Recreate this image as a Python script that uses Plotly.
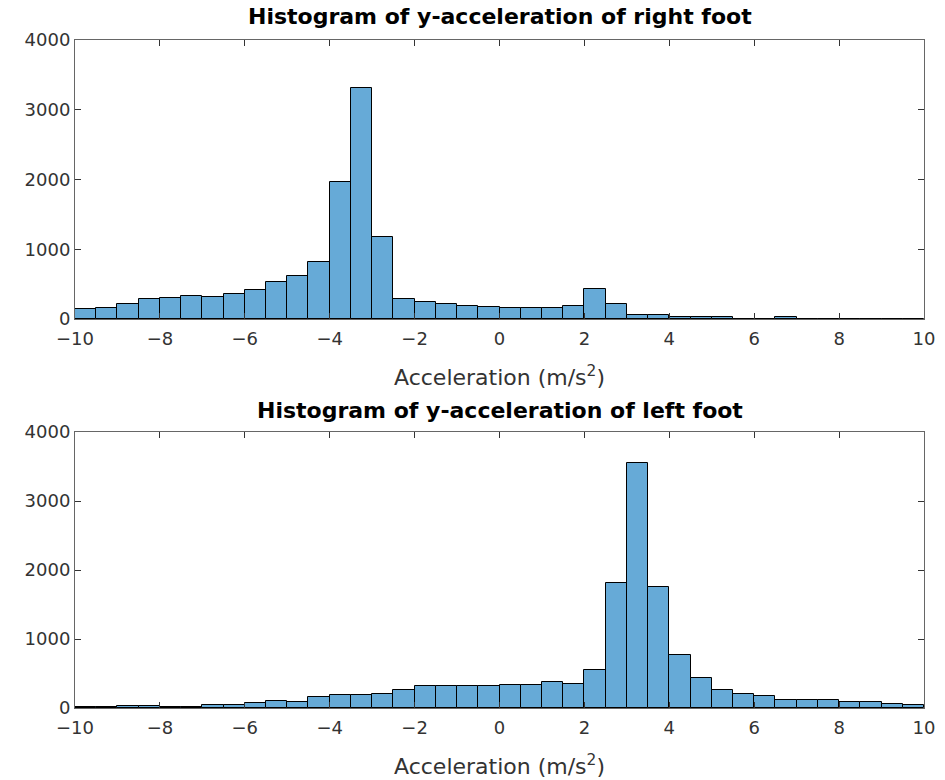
import plotly.graph_objects as go

# Bin left edges (width 0.5) from -10 to 10
bin_left = [-10.0, -9.5, -9.0, -8.5, -8.0, -7.5, -7.0, -6.5, -6.0, -5.5,
            -5.0, -4.5, -4.0, -3.5, -3.0, -2.5, -2.0, -1.5, -1.0, -0.5,
            0.0, 0.5, 1.0, 1.5, 2.0, 2.5, 3.0, 3.5, 4.0, 4.5,
            5.0, 5.5, 6.0, 6.5, 7.0, 7.5, 8.0, 8.5, 9.0, 9.5]
bin_width = 0.5

right_counts = [139, 163, 221, 283, 307, 336, 312, 360, 422, 532,
                619, 820, 1971, 3319, 1175, 283, 249, 216, 187, 177,
                163, 163, 163, 192, 427, 221, 53, 53, 29, 24,
                24, 5, 5, 29, 5, 5, 3, 3, 2, 2]

left_counts = [14, 14, 24, 24, 14, 10, 43, 38, 67, 96,
               86, 158, 182, 182, 205, 263, 320, 320, 320, 320,
               330, 330, 378, 349, 550, 1806, 3546, 1754, 769, 435,
               263, 205, 177, 120, 120, 120, 86, 86, 62, 43]

x_ticks = [-10, -8, -6, -4, -2, 0, 2, 4, 6, 8, 10]
y_ticks = [0, 1000, 2000, 3000, 4000]

titles = ["Histogram of y-acceleration of right foot",
          "Histogram of y-acceleration of left foot"]
xlabel = "Acceleration (m/s<sup>2</sup>)"

centers = [b + bin_width / 2 for b in bin_left]
bar_color = "rgb(102,170,215)"
font_family = "DejaVu Sans"
txt_color = "#333333"

fig = go.Figure()
fig.add_trace(go.Bar(x=centers, y=right_counts, width=bin_width,
                     marker=dict(color=bar_color, line=dict(color="black", width=1)),
                     xaxis="x", yaxis="y", showlegend=False))
fig.add_trace(go.Bar(x=centers, y=left_counts, width=bin_width,
                     marker=dict(color=bar_color, line=dict(color="black", width=1)),
                     xaxis="x2", yaxis="y2", showlegend=False))

W, H = 945, 780
ml, mr, mt, mb = 75, 21, 40, 72
ph = H - mt - mb

def py(pix):
    return (H - mb - pix) / ph

axis_common = dict(showgrid=False, zeroline=False, showline=True, linecolor="#666666",
                   linewidth=1, mirror="ticks", ticks="inside", ticklen=6, automargin=False,
                   tickcolor="#333333", tickfont=dict(family=font_family, size=18, color=txt_color))

xtitle = dict(text=xlabel, font=dict(family=font_family, size=22, color=txt_color), standoff=22)

fig.update_layout(
    width=W, height=H,
    margin=dict(l=ml, r=mr, t=mt, b=mb),
    paper_bgcolor="white", plot_bgcolor="white",
    bargap=0,
    xaxis=dict(domain=[0, 1], range=[-10, 10], tickvals=x_ticks, anchor="y",
               ticklabelstandoff=3, title=xtitle, **axis_common),
    yaxis=dict(domain=[py(319), 1], range=[0, 4000], tickvals=y_ticks, anchor="x", **axis_common),
    xaxis2=dict(domain=[0, 1], range=[-10, 10], tickvals=x_ticks, anchor="y2",
                ticklabelstandoff=3, title=xtitle, **axis_common),
    yaxis2=dict(domain=[0, py(432)], range=[0, 4000], tickvals=y_ticks, anchor="x2", **axis_common),
)

for t, ypix in zip(titles, [17, 410]):
    fig.add_annotation(text="<b>" + t + "</b>", xref="paper", yref="paper",
                       x=0.5, y=py(ypix), xanchor="center", yanchor="middle",
                       showarrow=False, font=dict(family=font_family, size=22, color="black"))

fig.write_html("out.html")
